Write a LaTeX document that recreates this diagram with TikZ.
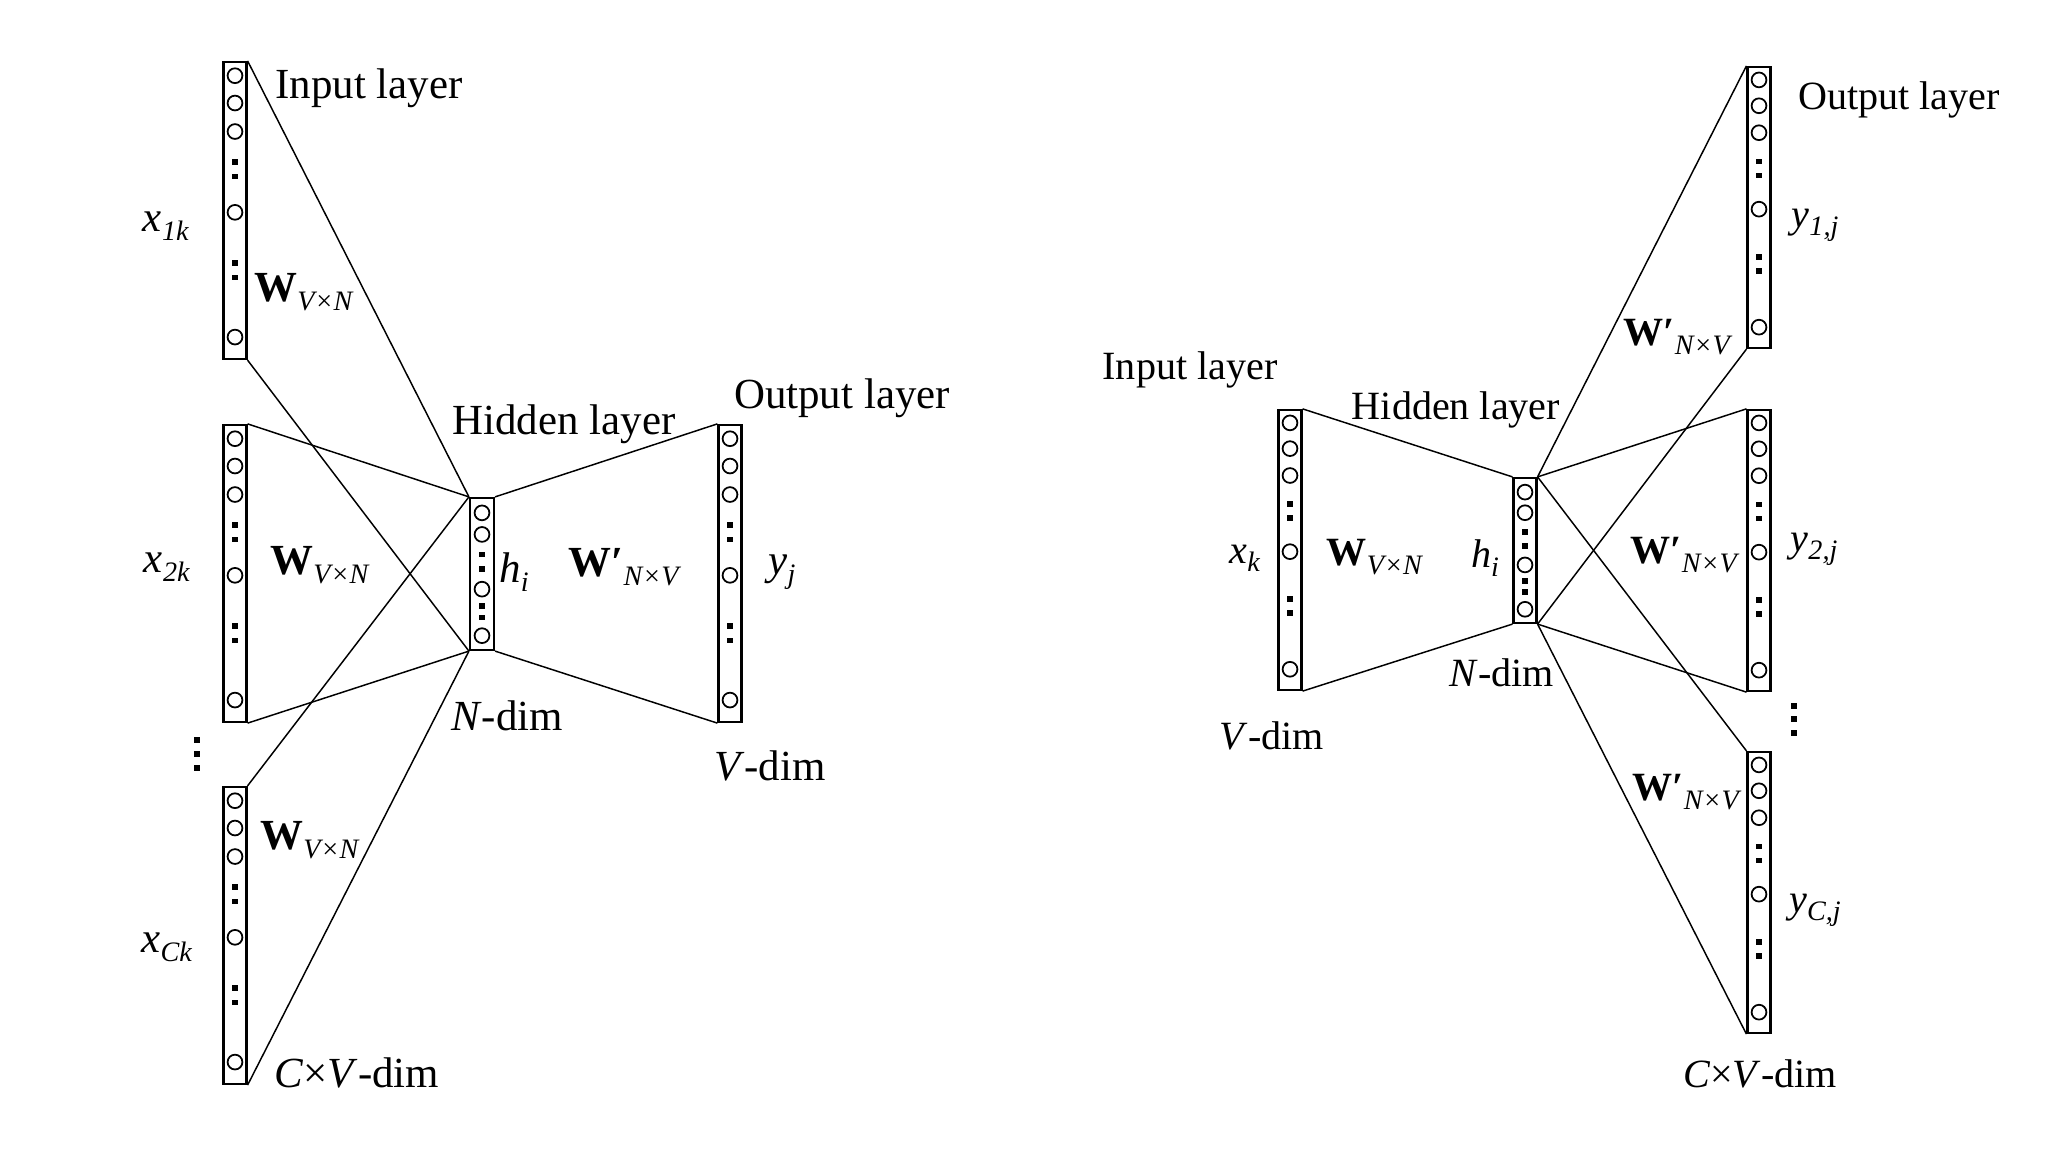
\documentclass[tikz,border=0pt]{standalone}
\usepackage{fontspec}
\setmainfont{Liberation Serif}
\usepackage{tikz}
\usetikzlibrary{calc}

\tikzset{
  layerbox/.style={draw, line width=0.6pt, inner sep=0pt, minimum width=0.23cm},
  wire/.style={line width=0.42pt},
  unit/.style={line width=0.5pt},
  lbl/.style={inner sep=0pt, font=\fontsize{12.2}{14}\selectfont},
  rlbl/.style={inner sep=0pt, font=\fontsize{11.4}{13}\selectfont},
}
\newcommand{\lowsub}[1]{\raisebox{-0.45ex}{\fontsize{8}{9}\selectfont\textit{#1}}}
\newcommand{\wmat}[1]{\textbf{W}\lowsub{#1}}
\newcommand{\wpmat}[1]{\textbf{W′}\lowsub{#1}}
\newcommand{\ivar}[2]{\textit{#1}\lowsub{#2}}
\newcommand{\unitcol}[2]{%
  \foreach \f in {.05,.142,.238,.51,.93}
    \draw[unit] ($(#1.north)+(0,\f*#2)$) circle[radius=0.074cm];
  \foreach \f in {.34,.39,.68,.73}
    \fill ($(#1.north)+(0,\f*#2)$) ++(-2.8,-2.8) rectangle ++(5.6,5.6);
}
\newcommand{\hidcol}[2]{%
  \foreach \f in {.105,.247,.607,.913}
    \draw[unit] ($(#1.north)+(0,\f*#2)$) circle[radius=0.074cm];
  \foreach \f in {.378,.476,.716,.793}
    \fill ($(#1.north)+(0,\f*#2)$) ++(-2.8,-2.8) rectangle ++(5.6,5.6);
}

\begin{document}
\begin{tikzpicture}[x=0.01cm, y=-0.01cm]
  \useasboundingbox (0,0) rectangle (2048,1152);

  \node[layerbox, minimum height=2.97cm] (in1) at (235,210.5) {};
  \node[layerbox, minimum height=2.97cm] (in2) at (235,573.5) {};
  \node[layerbox, minimum height=2.97cm] (in3) at (235,935.5) {};
  \node[layerbox, minimum height=1.52cm, minimum width=0.24cm] (hid) at (482,574) {};
  \node[layerbox, minimum height=2.97cm] (out) at (730,573.5) {};
  \unitcol{in1}{297}
  \unitcol{in2}{297}
  \unitcol{in3}{297}
  \hidcol{hid}{152}
  \unitcol{out}{297}
  \foreach \y in {740,754,768}
    \fill (197,\y) ++(-3,-3) rectangle ++(6,6);

  \foreach \b in {in1,in2,in3} {
    \draw[wire] (\b.north east) -- (hid.north west);
    \draw[wire] (\b.south east) -- (hid.south west);
  }
  \draw[wire] (hid.north east) -- (out.north west);
  \draw[wire] (hid.south east) -- (out.south west);

  \node[lbl] (inlab) at (369,88) {Input layer};
  \node[lbl] (x1) at (166,226) {\ivar{x}{1k}};
  \node[lbl] (w1) at (304,292) {\wmat{V×N}};
  \node[lbl] (x2) at (167,567) {\ivar{x}{2k}};
  \node[lbl] (w2) at (320,565) {\wmat{V×N}};
  \node[lbl] (x3) at (167,947) {\ivar{x}{Ck}};
  \node[lbl] (w3) at (310,840) {\wmat{V×N}};
  \node[lbl] (cvdim) at (357,1073) {\textit{C}×\textit{V}-dim};
  \node[lbl] (hidlab) at (564,424) {Hidden layer};
  \node[lbl] (hi) at (514,572) {\ivar{h}{i}};
  \node[lbl] (ndim) at (507,716) {\textit{N}-dim};
  \node[lbl] (wp) at (625,567) {\wpmat{N×V}};
  \node[lbl] (yj) at (782,572) {\ivar{y}{j}};
  \node[lbl] (outlab) at (842,398) {Output layer};
  \node[lbl] (vdim) at (770,766) {\textit{V}-dim};

  \node[layerbox, minimum height=2.80cm] (rin) at (1290,550) {};
  \node[layerbox, minimum height=1.45cm] (rhid) at (1525,550.5) {};
  \node[layerbox, minimum height=2.81cm] (routa) at (1759,207.5) {};
  \node[layerbox, minimum height=2.81cm] (routb) at (1759,550.5) {};
  \node[layerbox, minimum height=2.81cm] (routc) at (1759,892.5) {};
  \unitcol{rin}{280}
  \hidcol{rhid}{145}
  \unitcol{routa}{281}
  \unitcol{routb}{281}
  \unitcol{routc}{281}
  \foreach \y in {706,719,733}
    \fill (1794,\y) ++(-3,-3) rectangle ++(6,6);

  \draw[wire] (rin.north east) -- (rhid.north west);
  \draw[wire] (rin.south east) -- (rhid.south west);
  \foreach \o in {routa,routb,routc} {
    \draw[wire] (rhid.north east) -- (\o.north west);
    \draw[wire] (rhid.south east) -- (\o.south west);
  }

  \node[rlbl] (rinlab) at (1190,370) {Input layer};
  \node[rlbl] (rhidlab) at (1456,410) {Hidden layer};
  \node[rlbl] (xk) at (1245,558) {\ivar{x}{k}};
  \node[rlbl] (rw) at (1375,557) {\wmat{V×N}};
  \node[rlbl] (rhi) at (1485,558) {\ivar{h}{i}};
  \node[rlbl] (rndim) at (1502,673) {\textit{N}-dim};
  \node[rlbl] (rvdim) at (1272,736) {\textit{V}-dim};
  \node[rlbl] (routlab) at (1899,100) {Output layer};
  \node[rlbl] (y1) at (1815,225) {\ivar{y}{1,j}};
  \node[rlbl] (wpa) at (1678,337) {\wpmat{N×V}};
  \node[rlbl] (y2) at (1814,549) {\ivar{y}{2,j}};
  \node[rlbl] (wpb) at (1685,555) {\wpmat{N×V}};
  \node[rlbl] (wpc) at (1687,792) {\wpmat{N×V}};
  \node[rlbl] (yc) at (1815,910) {\ivar{y}{C,j}};
  \node[rlbl] (rcvdim) at (1760,1074) {\textit{C}×\textit{V}-dim};
\end{tikzpicture}
\end{document}
